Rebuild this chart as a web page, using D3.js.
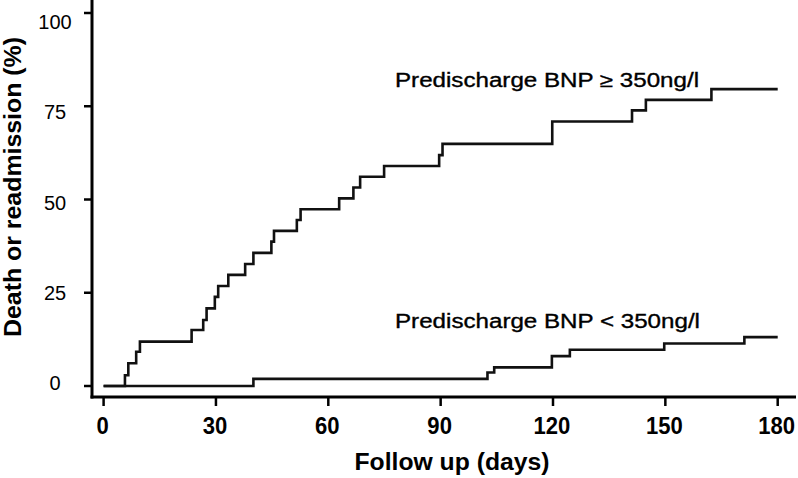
<!DOCTYPE html>
<html>
<head>
<meta charset="utf-8">
<script src="https://cdn.jsdelivr.net/npm/d3@7"></script>
<style>
  html, body { margin: 0; padding: 0; background: #fff; }
  svg { display: block; }
  text { font-family: "Liberation Sans", Arial, sans-serif; fill: #000; }
</style>
</head>
<body>
<svg id="chart" width="798" height="478"></svg>
<script>
// ---- data ----
const xTicks = [0, 30, 60, 90, 120, 150, 180];
const yTicks = [0, 25, 50, 75, 100];

const highDays = [0, 5.7, 6.6, 8.7, 9.7, 23.5, 26.6, 27.5, 29.7, 30.6, 33.3, 37.8, 40, 44.8, 45.5, 51.6, 52.6, 62.9, 66.7, 68.5, 74.9, 89.6, 90.5, 119.8, 141.1, 144.8, 162.3, 180];
const highPct  = [0, 2.9, 6.1, 9.2, 11.9, 15.0, 17.7, 20.8, 23.9, 26.8, 29.8, 32.7, 35.7, 38.7, 41.6, 44.5, 47.4, 50.3, 53.2, 56.1, 59.0, 61.9, 64.9, 70.9, 73.9, 76.7, 79.6, 79.6];

const lowDays = [0, 40, 102.5, 104.3, 119.7, 124.5, 149.7, 171.1, 180];
const lowPct  = [0, 1.9, 3.6, 5.0, 8.0, 9.7, 11.4, 13.1, 13.1];

const seriesLabels = ["Predischarge BNP \u2265 350ng/l", "Predischarge BNP < 350ng/l"];
const xTitle = "Follow up (days)";
const yTitle = "Death or readmission (%)";

// ---- scales ----
const svg = d3.select("#chart");
const x = d3.scaleLinear().domain([0, 180]).range([103.6, 777.7]);
const y = d3.scaleLinear().domain([0, 100]).range([386, 13]);
const yLab = d3.scaleLinear().domain([0, 100]).range([383, 22]);

// ---- axes ----
const axisX = 92, axisY = 397;
svg.append("line").attr("x1", axisX).attr("x2", axisX).attr("y1", 0).attr("y2", axisY + 1.5)
  .attr("stroke", "#000").attr("stroke-width", 3);
svg.append("line").attr("x1", axisX - 1.5).attr("x2", 796).attr("y1", axisY).attr("y2", axisY)
  .attr("stroke", "#000").attr("stroke-width", 3);

svg.selectAll(".yt").data(yTicks).enter().append("line")
  .attr("x1", axisX - 8).attr("x2", axisX).attr("y1", d => y(d)).attr("y2", d => y(d))
  .attr("stroke", "#000").attr("stroke-width", 2.5);
svg.selectAll(".ytl").data(yTicks).enter().append("text")
  .attr("x", 55).attr("y", d => yLab(d) + 7)
  .attr("text-anchor", "middle").attr("font-size", 20)
  .text(d => d);

svg.selectAll(".xt").data(xTicks).enter().append("line")
  .attr("x1", d => x(d)).attr("x2", d => x(d)).attr("y1", axisY).attr("y2", axisY + 9)
  .attr("stroke", "#000").attr("stroke-width", 2.5);
svg.selectAll(".xtl").data(xTicks).enter().append("text")
  .attr("x", d => x(d) - 1).attr("y", 434)
  .attr("text-anchor", "middle").attr("font-size", 24).attr("font-weight", "bold")
  .attr("transform", d => `translate(${x(d) - 1},0) scale(0.92,1) translate(${-(x(d) - 1)},0)`)
  .text(d => d);

svg.append("text").attr("x", 452).attr("y", 470).attr("text-anchor", "middle")
  .attr("font-size", 23).attr("font-weight", "bold")
  .attr("textLength", 195).attr("lengthAdjust", "spacingAndGlyphs")
  .text(xTitle);

svg.append("text").attr("transform", "translate(21,187) rotate(-90)")
  .attr("text-anchor", "middle").attr("font-size", 23).attr("font-weight", "bold")
  .attr("textLength", 300).attr("lengthAdjust", "spacingAndGlyphs")
  .text(yTitle);

// ---- curves ----
const line = d3.line().x(d => x(d[0])).y(d => y(d[1])).curve(d3.curveStepAfter);
const high = highDays.map((d, i) => [d, highPct[i]]);
const low = lowDays.map((d, i) => [d, lowPct[i]]);
[high, low].forEach(s => {
  svg.append("path").datum(s).attr("d", line)
    .attr("fill", "none").attr("stroke", "#111").attr("stroke-width", 2.6)
    .attr("stroke-linejoin", "miter");
});

// ---- labels ----
svg.append("text").attr("x", 395).attr("y", 86.5).attr("font-size", 19.5)
  .attr("stroke", "#000").attr("stroke-width", 0.35)
  .attr("textLength", 304).attr("lengthAdjust", "spacingAndGlyphs")
  .text(seriesLabels[0]);
svg.append("text").attr("x", 395).attr("y", 328).attr("font-size", 19.5)
  .attr("stroke", "#000").attr("stroke-width", 0.35)
  .attr("textLength", 305).attr("lengthAdjust", "spacingAndGlyphs")
  .text(seriesLabels[1]);
</script>
</body>
</html>
